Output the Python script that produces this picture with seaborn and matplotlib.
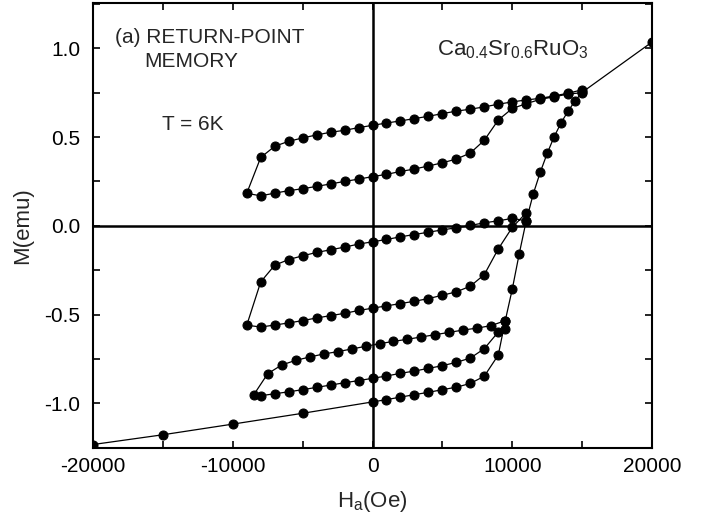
import matplotlib
matplotlib.use("Agg")
import seaborn as sns
from matplotlib import pyplot as plt
from matplotlib.ticker import MultipleLocator

# main branch: up from negative saturation
main_h = [-20000, -15000, -10000, -5000, 0, 1000, 2000, 3000, 4000, 5000, 6000,
          7000, 8000, 9000, 9500, 10000, 10500, 11000, 11500, 12000, 12500,
          13000, 13500, 14000, 14500, 15000, 20000]
main_m = [-1.232, -1.177, -1.117, -1.056, -0.992, -0.979, -0.965, -0.951, -0.938,
          -0.923, -0.909, -0.888, -0.847, -0.728, -0.534, -0.357, -0.157, 0.028,
          0.179, 0.301, 0.408, 0.502, 0.581, 0.647, 0.704, 0.752, 1.035]

# loop from 15 kOe down to -9 kOe and back
loop1_h = [15000, 14000, 13000, 12000, 11000, 10000, 9000, 8000, 7000, 6000, 5000,
           4000, 3000, 2000, 1000, 0, -1000, -2000, -3000, -4000, -5000, -6000,
           -7000, -8000, -9000,
           -8000, -7000, -6000, -5000, -4000, -3000, -2000, -1000, 0, 1000, 2000,
           3000, 4000, 5000, 6000, 7000, 8000, 9000, 10000, 11000, 12000, 13000,
           14000, 15000]
loop1_m = [0.766, 0.747, 0.732, 0.718, 0.709, 0.698, 0.685, 0.670, 0.657, 0.646,
           0.632, 0.617, 0.604, 0.591, 0.579, 0.566, 0.553, 0.538, 0.527, 0.512,
           0.495, 0.476, 0.448, 0.385, 0.183,
           0.169, 0.184, 0.198, 0.209, 0.222, 0.236, 0.250, 0.263, 0.277, 0.290,
           0.306, 0.320, 0.337, 0.355, 0.376, 0.410, 0.482, 0.596, 0.661, 0.688,
           0.712, 0.727, 0.742, 0.750]

# loop from 11 kOe down to -9 kOe and back
loop2_h = [11000, 10000, 9000, 8000, 7000, 6000, 5000, 4000, 3000, 2000, 1000, 0,
           -1000, -2000, -3000, -4000, -5000, -6000, -7000, -8000, -9000,
           -8000, -7000, -6000, -5000, -4000, -3000, -2000, -1000, 0, 1000, 2000,
           3000, 4000, 5000, 6000, 7000, 8000, 9000, 10000, 11000]
loop2_m = [0.028, 0.042, 0.028, 0.017, 0.002, -0.011, -0.023, -0.036, -0.049,
           -0.062, -0.077, -0.090, -0.103, -0.120, -0.135, -0.150, -0.169, -0.190,
           -0.222, -0.316, -0.560,
           -0.570, -0.559, -0.547, -0.534, -0.519, -0.506, -0.493, -0.477, -0.464,
           -0.451, -0.438, -0.425, -0.410, -0.391, -0.372, -0.340, -0.275, -0.130,
           -0.009, 0.073]

# loop from 9.5 kOe down to -8.5 kOe and back
loop3_h = [9500, 8500, 7500, 6500, 5500, 4500, 3500, 2500, 1500, 500, -500, -1500,
           -2500, -3500, -4500, -5500, -6500, -7500, -8500,
           -8000, -7000, -6000, -5000, -4000, -3000, -2000, -1000, 0, 1000, 2000,
           3000, 4000, 5000, 6000, 7000, 8000, 9000, 9500]
loop3_m = [-0.534, -0.562, -0.576, -0.587, -0.600, -0.613, -0.626, -0.639, -0.651,
           -0.664, -0.679, -0.694, -0.709, -0.722, -0.739, -0.758, -0.784, -0.833,
           -0.952,
           -0.957, -0.946, -0.935, -0.923, -0.910, -0.897, -0.884, -0.872, -0.859,
           -0.846, -0.831, -0.818, -0.803, -0.788, -0.769, -0.745, -0.692, -0.598,
           -0.579]

branches = [(main_h, main_m), (loop1_h, loop1_m), (loop2_h, loop2_m), (loop3_h, loop3_m)]

sns.set_style("ticks")
plt.rcParams["font.family"] = ["Liberation Sans", "DejaVu Sans"]
plt.rcParams["mathtext.default"] = "regular"
plt.rcParams["axes.unicode_minus"] = False

fig = plt.figure(figsize=(7.08, 5.2), dpi=100)
ax = fig.add_axes([0.1314, 0.139, 0.7895, 0.8552])

for h, m in branches:
    sns.lineplot(x=h, y=m, sort=False, estimator=None, ax=ax, color="black",
                 lw=0.9, marker="o", markersize=6.5, markeredgecolor="black",
                 markerfacecolor="black")

ax.axhline(0, color="black", lw=1.8, zorder=1)
ax.axvline(0, color="black", lw=1.8, zorder=1)

ax.set_xlim(-20000, 20000)
ax.set_ylim(-1.25, 1.255)
ax.xaxis.set_major_locator(MultipleLocator(10000))
ax.xaxis.set_minor_locator(MultipleLocator(5000))
ax.yaxis.set_major_locator(MultipleLocator(0.5))
ax.yaxis.set_minor_locator(MultipleLocator(0.25))
ax.yaxis.set_major_formatter(lambda v, p: f"{v:.1f}")
ax.xaxis.set_major_formatter(lambda v, p: f"{v:.0f}")
ax.tick_params(which="both", direction="in", top=True, right=True, length=5,
               width=1.2, labelsize=15, colors="black")
ax.tick_params(axis="x", pad=7)
ax.tick_params(axis="y", pad=9)
for s in ax.spines.values():
    s.set_linewidth(1.5)
    s.set_color("black")

ax.set_xlabel(r"H$_a$(Oe)", fontsize=16, labelpad=9)
ax.set_ylabel("M(emu)", fontsize=16, labelpad=8)

ax.text(-18400, 1.062, "(a) RETURN-POINT", fontsize=15, va="center", ha="left")
ax.text(-16350, 0.925, "MEMORY", fontsize=15, va="center", ha="left")
ax.text(-15100, 0.568, "T = 6K", fontsize=15, va="center", ha="left")
ax.text(4600, 0.99, r"Ca$_{0.4}$Sr$_{0.6}$RuO$_3$", fontsize=16, va="center", ha="left")

fig.savefig("out.png", dpi=100)
